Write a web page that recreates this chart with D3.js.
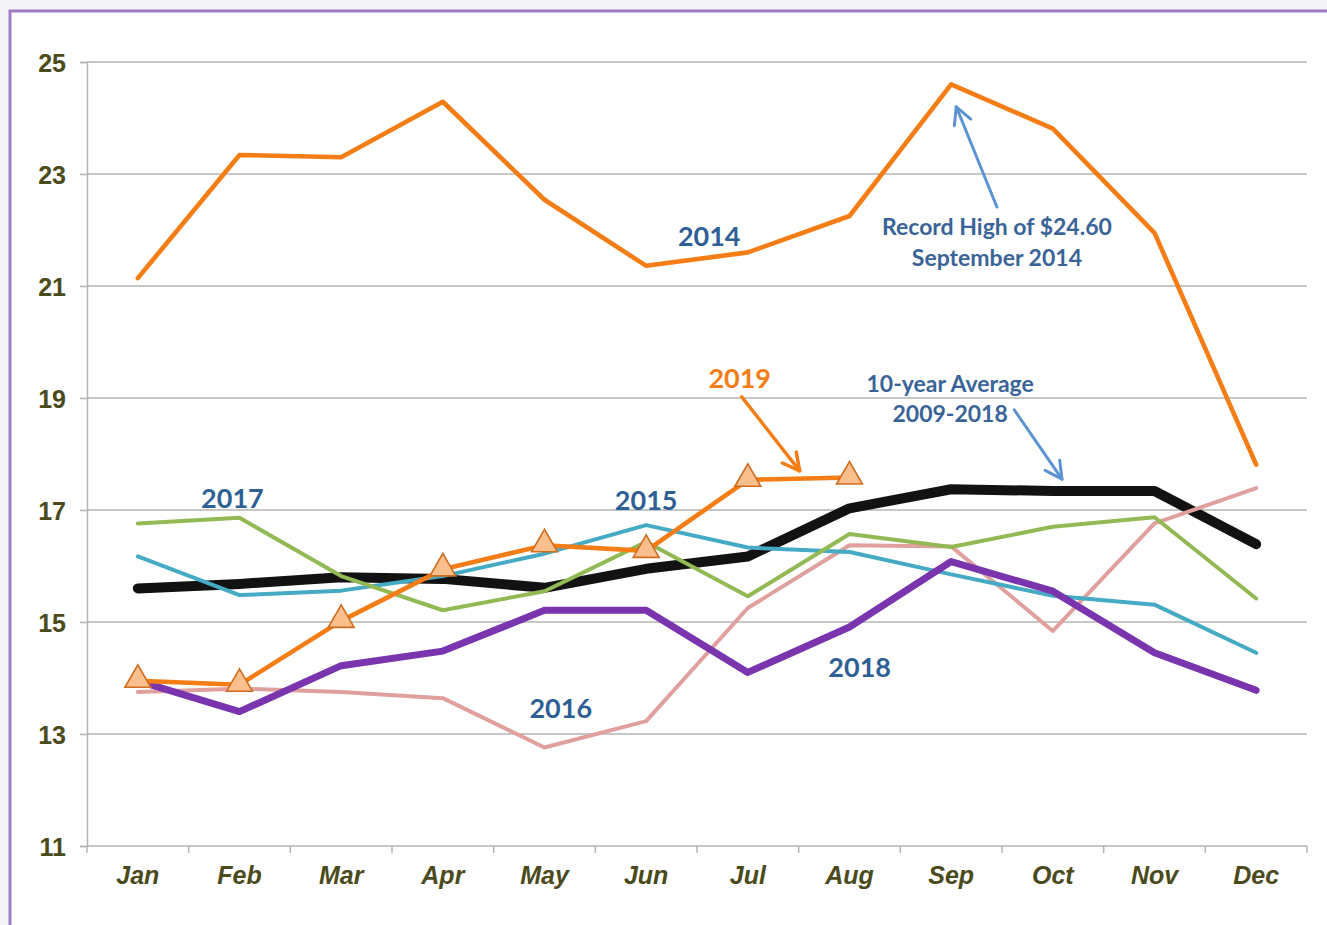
<!DOCTYPE html>
<html>
<head>
<meta charset="utf-8">
<script src="https://cdn.jsdelivr.net/npm/d3@7"></script>
<style>
  html, body { margin: 0; padding: 0; background: #f5f5f7; }
  svg { display: block; }
</style>
</head>
<body>
<svg id="chart" width="1327" height="925"></svg>
<script>
// ---------- DATA ----------
const months = ["Jan","Feb","Mar","Apr","May","Jun","Jul","Aug","Sep","Oct","Nov","Dec"];
const yTicks = [11, 13, 15, 17, 19, 21, 23, 25];

const s2014 = [21.14, 23.34, 23.30, 24.29, 22.54, 21.36, 21.60, 22.25, 24.60, 23.81, 21.95, 17.81];
const s2015 = [16.17, 15.48, 15.56, 15.82, 16.22, 16.73, 16.33, 16.25, 15.85, 15.47, 15.31, 14.45];
const s2016 = [13.75, 13.81, 13.75, 13.64, 12.76, 13.23, 15.25, 16.37, 16.35, 14.84, 16.76, 17.39];
const s2017 = [16.76, 16.86, 15.82, 15.21, 15.55, 16.43, 15.46, 16.57, 16.34, 16.70, 16.87, 15.42];
const s2018 = [13.95, 13.40, 14.22, 14.48, 15.21, 15.21, 14.10, 14.91, 16.08, 15.55, 14.45, 13.78];
const s2019 = [13.95, 13.88, 15.02, 15.94, 16.37, 16.27, 17.54, 17.58];
const avg10 = [15.60, 15.68, 15.80, 15.77, 15.61, 15.95, 16.17, 17.03, 17.37, 17.34, 17.34, 16.39];

// annotation texts (x in month-index units, y in value units)
const labelText  = ["2014", "2017", "2015", "2016", "2018", "2019"];
const labelX     = [5.62, 0.93, 5.00, 4.16, 7.10, 5.92];
const labelY     = [21.91, 17.23, 17.18, 13.48, 14.20, 19.36];
const noteText   = ["Record High of $24.60", "September 2014", "10-year Average", "2009-2018"];
const noteX      = [8.45, 8.45, 7.99, 7.99];
const noteY      = [22.07, 21.52, 19.27, 18.73];
// arrows: [x0, y0, x1, y1] in month-index / value units
const arrowRecord = [8.45, 22.41, 8.05, 24.20];
const arrow2019   = [5.94, 19.02, 6.51, 17.70];
const arrowAvg    = [8.62, 18.79, 9.09, 17.55];

// ---------- LAYOUT ----------
const svg = d3.select("#chart");
const plotL = 87, plotR = 1307, plotT = 62, plotB = 846;

// frame
svg.append("rect").attr("x", 10).attr("y", 11).attr("width", 1400).attr("height", 1000)
  .attr("fill", "#ffffff").attr("stroke", "#a07cc5").attr("stroke-width", 3);

const x = d3.scaleBand().domain(months).range([plotL, plotR]).paddingInner(0).paddingOuter(0);
const xc = m => x(m) + x.bandwidth() / 2;
const xi = d3.scaleLinear().domain([-0.5, 11.5]).range([plotL, plotR]);
const y = d3.scaleLinear().domain([11, 25]).range([plotB, plotT]);

const tickColor = "#4a4a1c";
const gridColor = "#b4b4b4";

// gridlines
svg.append("g").selectAll("line").data(yTicks.filter(t => t > 11)).join("line")
  .attr("x1", plotL).attr("x2", plotR)
  .attr("y1", d => y(d)).attr("y2", d => y(d))
  .attr("stroke", gridColor).attr("stroke-width", 1.5);

// y axis
const yAxis = svg.append("g").attr("transform", `translate(${plotL},0)`)
  .call(d3.axisLeft(y).tickValues(yTicks).tickSize(7).tickPadding(14).tickFormat(d3.format("d")));
yAxis.select(".domain").attr("stroke", gridColor).attr("stroke-width", 1.5);
yAxis.selectAll(".tick line").attr("stroke", gridColor).attr("stroke-width", 1.5);
yAxis.selectAll(".tick text")
  .attr("fill", tickColor).attr("font-family", "'Liberation Sans', Arial, sans-serif")
  .attr("font-weight", "bold").attr("font-size", 25).attr("dy", "0.36em");

// x axis (labels centered in month bands; ticks at band edges)
const xAxis = svg.append("g").attr("transform", `translate(0,${plotB})`)
  .call(d3.axisBottom(x).tickSize(0).tickPadding(20));
xAxis.select(".domain").remove();
xAxis.selectAll(".tick text")
  .attr("fill", tickColor).attr("font-family", "'Liberation Sans', Arial, sans-serif")
  .attr("font-weight", "bold").attr("font-style", "italic").attr("font-size", 25);
svg.append("line").attr("x1", plotL).attr("x2", plotR).attr("y1", plotB).attr("y2", plotB)
  .attr("stroke", gridColor).attr("stroke-width", 1.5);
const edges = months.map(m => x(m)).concat([plotR]);
svg.append("g").selectAll("line").data(edges).join("line")
  .attr("x1", d => d).attr("x2", d => d).attr("y1", plotB).attr("y2", plotB + 7)
  .attr("stroke", gridColor).attr("stroke-width", 1.5);

// ---------- LINES ----------
const line = d3.line().x((d, i) => xc(months[i])).y(d => y(d));
const series = [
  { data: avg10, color: "#121212", width: 10 },
  { data: s2016, color: "#dfa09e", width: 4 },
  { data: s2015, color: "#45aac4", width: 4 },
  { data: s2017, color: "#93b955", width: 4 },
  { data: s2018, color: "#7a35ae", width: 7 },
  { data: s2014, color: "#f57d16", width: 4.6 },
  { data: s2019, color: "#f57d16", width: 4.6 }
];
svg.append("g").selectAll("path").data(series).join("path")
  .attr("d", d => line(d.data))
  .attr("fill", "none").attr("stroke", d => d.color).attr("stroke-width", d => d.width)
  .attr("stroke-linejoin", "round").attr("stroke-linecap", "round");

// 2019 triangle markers
const tri = d3.symbol().type(d3.symbolTriangle).size(290);
svg.append("g").selectAll("path").data(s2019).join("path")
  .attr("d", tri)
  .attr("transform", (d, i) => `translate(${xc(months[i])},${y(d) - 1})`)
  .attr("fill", "#fbbf8e").attr("stroke", "#cf6c1e").attr("stroke-width", 1.6);

// ---------- ANNOTATIONS ----------
const annFont = "Lato, 'Open Sans', sans-serif";
svg.append("g").selectAll("text").data(labelText).join("text")
  .attr("x", (d, i) => xi(labelX[i])).attr("y", (d, i) => y(labelY[i]))
  .attr("text-anchor", "middle").attr("dominant-baseline", "central")
  .attr("font-family", annFont).attr("font-weight", "bold").attr("font-size", 27)
  .attr("fill", d => d === "2019" ? "#f57d16" : "#2e5f95")
  .text(d => d);

svg.append("g").selectAll("text").data(noteText).join("text")
  .attr("x", (d, i) => xi(noteX[i])).attr("y", (d, i) => y(noteY[i]))
  .attr("text-anchor", "middle").attr("dominant-baseline", "central")
  .attr("font-family", annFont).attr("font-weight", "bold").attr("font-size", 23)
  .attr("fill", "#3a6497")
  .text(d => d);

function arrow(a, color, w) {
  const x0 = xi(a[0]), y0 = y(a[1]), x1 = xi(a[2]), y1 = y(a[3]);
  const ang = Math.atan2(y1 - y0, x1 - x0);
  const len = 19, spread = Math.PI / 6.5;
  const g = svg.append("g").attr("stroke", color).attr("stroke-width", w)
    .attr("fill", "none").attr("stroke-linecap", "round").attr("stroke-linejoin", "round");
  g.append("line").attr("x1", x0).attr("y1", y0).attr("x2", x1).attr("y2", y1);
  g.append("path").attr("d",
    `M${x1 - len * Math.cos(ang - spread)},${y1 - len * Math.sin(ang - spread)}` +
    `L${x1},${y1}` +
    `L${x1 - len * Math.cos(ang + spread)},${y1 - len * Math.sin(ang + spread)}`);
}
arrow(arrowRecord, "#5b93d3", 3);
arrow(arrowAvg, "#5b93d3", 3);
arrow(arrow2019, "#f57d16", 3.5);
</script>
</body>
</html>
